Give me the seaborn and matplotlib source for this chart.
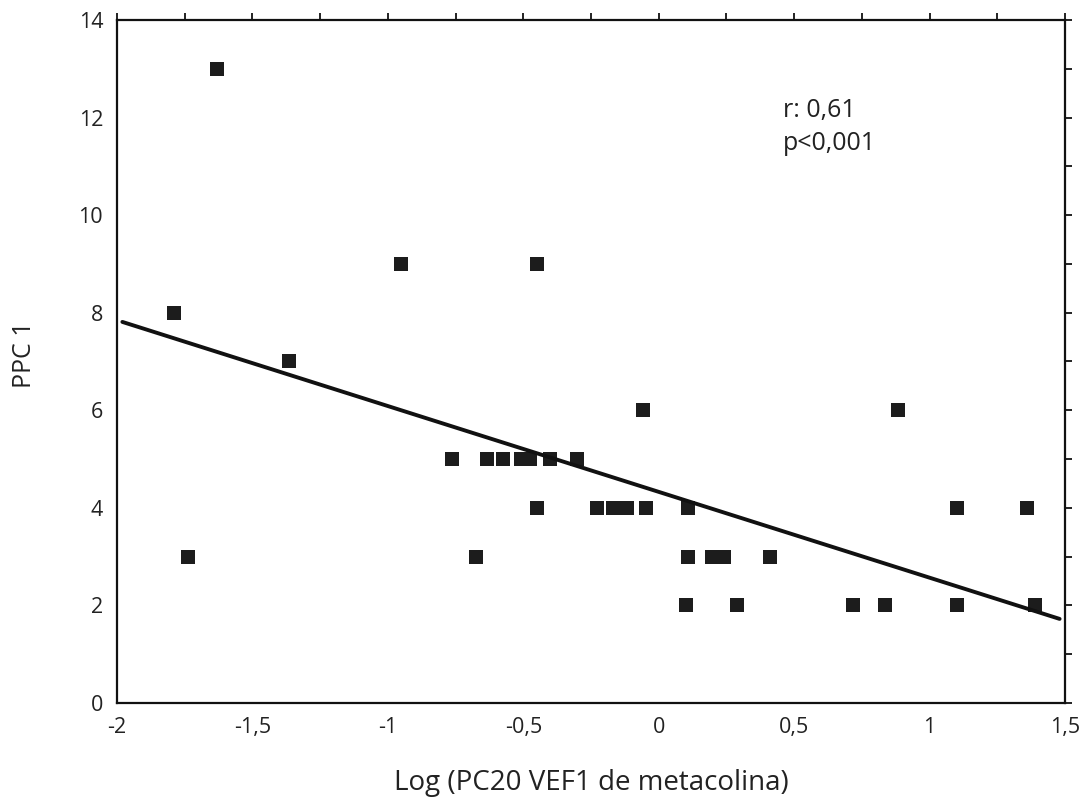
import numpy as np
import pandas as pd
import seaborn as sns
import matplotlib.pyplot as plt
from matplotlib.ticker import MultipleLocator, FuncFormatter

sns.set_style("white")
plt.rcParams['font.family'] = ['Open Sans', 'DejaVu Sans']

# points (log PC20, PPC 1)
log_pc20 = [-1.63, -1.79, -1.365, -0.95, -0.45,
            -1.738, -0.675, -0.058, 0.883,
            -0.763, -0.634, -0.575, -0.509, -0.475, -0.402, -0.302,
            -0.45, -0.228, -0.169, -0.117, -0.047, 0.108, 1.101, 1.359,
            0.108, 0.198, 0.242, 0.410,
            0.100, 0.289, 0.717, 0.835, 1.101, 1.389]
ppc1 = [13, 8, 7, 9, 9,
        3, 3, 6, 6,
        5, 5, 5, 5, 5, 5, 5,
        4, 4, 4, 4, 4, 4, 4, 4,
        3, 3, 3, 3,
        2, 2, 2, 2, 2, 2]
df = pd.DataFrame({"x": log_pc20, "y": ppc1})

fig = plt.figure(figsize=(10.85, 7.97), dpi=100)
ax = fig.add_axes([0.1078, 0.118, 0.8738, 0.857])

# fitted line spans slightly less than the axis range
ax.set_xlim(-1.98, 1.48)
sns.regplot(data=df, x="x", y="y", ax=ax, ci=None, truncate=False,
            marker="s", color="#111111",
            scatter_kws={"s": 110, "linewidths": 0, "color": "#1c1c1c", "alpha": 1},
            line_kws={"lw": 2.8, "color": "#111111"})

ax.set_xlim(-2, 1.5)
ax.set_ylim(0, 14)

ax.xaxis.set_major_locator(MultipleLocator(0.5))
ax.xaxis.set_minor_locator(MultipleLocator(0.25))
ax.yaxis.set_major_locator(MultipleLocator(2))
ax.yaxis.set_minor_locator(MultipleLocator(1))
fmt = FuncFormatter(lambda v, p: ("%g" % v).replace(".", ","))
ax.xaxis.set_major_formatter(fmt)
ax.yaxis.set_major_formatter(fmt)

ax.tick_params(which="both", direction="out", length=5, width=1.3, color="#111111",
               top=True, right=True, labeltop=False, labelright=False,
               labelsize=15.5, labelcolor="#222222", pad=5)

for s in ax.spines.values():
    s.set_linewidth(1.6)
    s.set_color("#111111")
    s.set_visible(True)

ax.set_xlabel("Log (PC20 VEF1 de metacolina)", fontsize=20, color="#222222")
ax.set_ylabel("PPC 1", fontsize=18, color="#222222")
ax.xaxis.set_label_coords(0.5, -0.117)
ax.xaxis.label.set_va("center")
ax.yaxis.set_label_coords(-0.098, 0.51)
ax.yaxis.label.set_va("center")

ax.text(0.458, 12.02, "r: 0,61", fontsize=18, color="#222222", va="baseline", ha="left")
ax.text(0.458, 11.33, "p<0,001", fontsize=18, color="#222222", va="baseline", ha="left")

fig.savefig("out.png", dpi=100)
